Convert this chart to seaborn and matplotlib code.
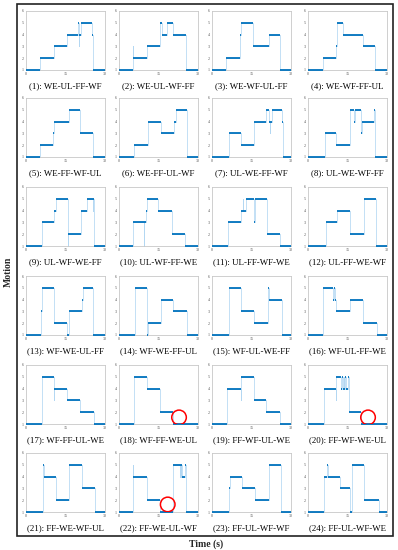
import pandas as pd
import matplotlib
matplotlib.use("Agg")
import matplotlib.pyplot as plt
from matplotlib.patches import Rectangle
import seaborn as sns

# change times (s) and motion level after each change, one list per panel
change_times = [
    [0, 5.3, 10.6, 15.4, 19.6, 20.0, 20.3, 21.0, 25.2, 25.3],
    [0, 5.4, 5.5, 10.6, 15.6, 16.3, 18.1, 20.6, 25.3],
    [0, 5.3, 10.5, 10.9, 15.4, 21.5, 25.9],
    [0, 5.7, 10.8, 11.1, 13.3, 20.9, 25.3],
    [0, 5.3, 10.4, 10.5, 16.2, 20.5, 25.6],
    [0, 5.8, 10.9, 15.9, 21.0, 21.6, 25.7],
    [0, 6.6, 10.9, 16.0, 20.6, 21.7, 21.9, 22.0, 22.6, 26.5, 26.9],
    [0, 6.3, 10.8, 15.8, 16.1, 17.6, 17.8, 20.3, 20.6, 25.2, 25.35],
    [0, 5.9, 10.8, 11.3, 15.8, 16.1, 20.8, 23.3, 25.5, 25.6, 26.0],
    [0, 5.2, 9.5, 9.6, 10.2, 10.5, 14.9, 20.0, 25.1],
    [0, 6.0, 10.9, 11.8, 11.95, 12.9, 16.0, 16.15, 16.4, 20.8, 20.9, 25.9],
    [0, 6.8, 11.1, 16.1, 21.1, 25.8, 25.9],
    [0, 5.6, 5.9, 6.2, 10.6, 15.4, 16.3, 21.1, 21.5, 25.6],
    [0, 6.0, 10.5, 10.6, 10.9, 16.0, 20.6, 25.7],
    [0, 6.6, 10.9, 16.0, 21.4, 21.5, 26.5, 26.7],
    [0, 5.7, 9.5, 9.8, 10.1, 10.8, 15.8, 20.9, 26.2],
    [0, 5.9, 10.5, 10.6, 15.7, 20.5, 25.8],
    [0, 5.8, 10.5, 15.6, 20.4],
    [0, 5.6, 10.9, 11.1, 15.8, 20.6, 25.9],
    [0, 6.0, 10.7, 10.8, 12.7, 13.0, 13.2, 13.6, 13.8, 14.2, 14.4, 15.3, 15.4, 20.3],
    [0, 6.6, 6.7, 11.3, 16.3, 21.1, 26.2],
    [0, 5.4, 5.5, 10.5, 15.6, 20.6, 23.0, 23.2, 23.4, 23.6, 24.0, 25.2, 25.4],
    [0, 6.6, 6.7, 11.3, 16.4, 21.5, 26.3],
    [0, 6.0, 6.1, 7.4, 7.6, 12.0, 16.1, 16.7, 21.1, 26.8],
]
motion_levels = [
    [1, 2, 3, 4, 5, 3, 4, 5, 4, 1],
    [1, 3, 2, 3, 5, 4, 5, 4, 1],
    [1, 2, 4, 5, 3, 4, 1],
    [1, 2, 3, 5, 4, 3, 1],
    [1, 2, 3, 4, 5, 3, 1],
    [1, 2, 4, 3, 4, 5, 1],
    [1, 3, 2, 4, 5, 4, 3, 4, 5, 4, 1],
    [1, 3, 2, 3, 5, 4, 5, 3, 4, 5, 1],
    [1, 3, 4, 5, 1, 2, 4, 5, 4, 5, 1],
    [1, 3, 1, 3, 4, 5, 4, 2, 1],
    [1, 3, 4, 5, 4, 5, 3, 4, 5, 4, 2, 1],
    [1, 3, 4, 2, 5, 3, 1],
    [1, 3, 4, 5, 2, 1, 3, 4, 5, 1],
    [1, 5, 4, 1, 2, 4, 3, 1],
    [1, 5, 3, 2, 5, 4, 2, 1],
    [1, 5, 4, 5, 4, 3, 4, 2, 1],
    [1, 5, 3, 4, 3, 2, 1],
    [1, 5, 4, 2, 1],
    [1, 4, 3, 5, 3, 2, 1],
    [1, 4, 3, 5, 4, 5, 4, 5, 4, 5, 4, 5, 2, 1],
    [1, 5, 4, 2, 5, 3, 1],
    [1, 5, 4, 2, 1, 5, 4, 5, 4, 5, 4, 5, 1],
    [1, 3, 4, 3, 2, 5, 1],
    [1, 3, 4, 5, 4, 3, 1, 5, 2, 1],
]
captions = [
    "(1): WE-UL-FF-WF", "(2): WE-UL-WF-FF", "(3): WE-WF-UL-FF", "(4): WE-WF-FF-UL",
    "(5): WE-FF-WF-UL", "(6): WE-FF-UL-WF", "(7): UL-WE-FF-WF", "(8): UL-WE-WF-FF",
    "(9): UL-WF-WE-FF", "(10): UL-WF-FF-WE", "(11): UL-FF-WF-WE", "(12): UL-FF-WE-WF",
    "(13): WF-WE-UL-FF", "(14): WF-WE-FF-UL", "(15): WF-UL-WE-FF", "(16): WF-UL-FF-WE",
    "(17): WF-FF-UL-WE", "(18): WF-FF-WE-UL", "(19): FF-WF-UL-WE", "(20): FF-WF-WE-UL",
    "(21): FF-WE-WF-UL", "(22): FF-WE-UL-WF", "(23): FF-UL-WF-WF", "(24): FF-UL-WF-WE",
]
# red circle marks: panel index -> (time, motion)
circle_panels = [17, 19, 21]
circle_time = [22.8, 22.8, 18.5]
circle_motion = [1.56, 1.56, 1.64]

sns.set_style("white")
plt.rcParams['font.family'] = ['Liberation Serif', 'DejaVu Serif']

W, H = 398, 550
fig = plt.figure(figsize=(W / 100, H / 100), dpi=100)

col_left = [26, 119, 212, 308]
row_top = [11, 98, 187, 276, 365, 453]
ax_w, ax_h = 79, 59

for i in range(24):
    r, c = divmod(i, 4)
    ax = fig.add_axes([col_left[c] / W, 1 - (row_top[r] + ax_h) / H, ax_w / W, ax_h / H])
    t = change_times[i] + [30]
    v = motion_levels[i] + [motion_levels[i][-1]]
    df = pd.DataFrame({"time": t, "motion": v})
    # thin light step line (shows the vertical transitions)
    sns.lineplot(data=df, x="time", y="motion", drawstyle="steps-post",
                 estimator=None, sort=False, color="#b3d7f2", lw=0.55,
                 ax=ax, clip_on=False)
    # darker horizontal levels
    ax.hlines(v[:-1], t[:-1], t[1:], color="#0072BD", lw=1.3, clip_on=False, zorder=3)

    if i in circle_panels:
        k = circle_panels.index(i)
        sns.scatterplot(x=[circle_time[k]], y=[circle_motion[k]], s=110, marker="o",
                        facecolor="none", edgecolor="red", linewidth=1.1, ax=ax, zorder=5)

    ax.set_xlim(0, 30)
    ax.set_ylim(1, 6)
    ax.set_xticks([0, 15, 30])
    ax.set_yticks([1, 2, 3, 4, 5, 6])
    ax.set_xlabel("")
    ax.set_ylabel("")
    ax.tick_params(labelsize=3, colors="#555555", direction="in", length=1.5,
                   width=0.4, pad=1.5)
    for s in ax.spines.values():
        s.set_color("#c8c8c8")
        s.set_linewidth(0.6)
    ax.text(0.5, -16 / ax_h, captions[i], transform=ax.transAxes,
            ha="center", va="center", fontsize=6.4, color="black")

fig.add_artist(Rectangle((17 / W, 1 - 536 / H), (393 - 17) / W, (536 - 4) / H,
                         transform=fig.transFigure, fill=False, lw=1.2, ec="#222222"))
fig.text(8 / W, 1 - 272 / H, "Motion", rotation=90, fontweight="bold",
         fontsize=7, ha="center", va="center")
fig.text(206 / W, 1 - 544 / H, "Time (s)", fontweight="bold",
         fontsize=7, ha="center", va="center")

fig.savefig("out.png", dpi=100)
